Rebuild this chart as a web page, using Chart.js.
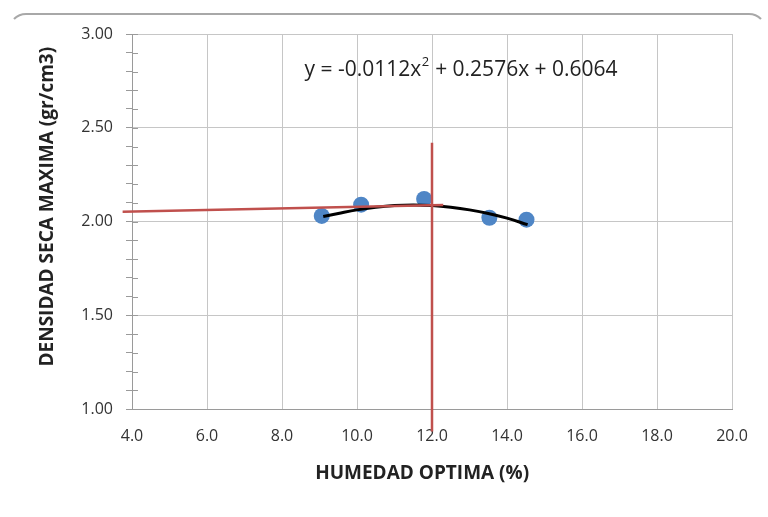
<!DOCTYPE html>
<html>
<head>
<meta charset="utf-8">
<script src="https://cdn.jsdelivr.net/npm/chart.js@4.4.1/dist/chart.umd.min.js"></script>
<style>
  html, body { margin: 0; padding: 0; background: #fff; }
  #box { position: relative; width: 768px; height: 517px; overflow: hidden; }
  #frame {
    position: absolute; left: 8px; top: 13px; width: 755px; height: 560px;
    border: 2px solid transparent; border-top-color: #a8a8a8; border-radius: 18px;
  }
  canvas { position: absolute; left: 0; top: 0; }
</style>
</head>
<body>
<div id="box">
  <div id="frame"></div>
  <canvas id="proctor"></canvas>
</div>
<script>
// puntos del ensayo (humedad %, densidad seca gr/cm3)
const humedad = [9.06, 10.11, 11.79, 13.53, 14.52];
const densidad = [2.03, 2.09, 2.12, 2.02, 2.01];

// curva de tendencia
const curvaX = [9.1, 9.5, 10.0, 10.5, 11.0, 11.5, 12.0, 12.5, 13.0, 13.5, 14.0, 14.55];
const curvaY = [2.027, 2.043, 2.062, 2.076, 2.085, 2.088, 2.085, 2.076, 2.062, 2.043, 2.018, 1.983];

// lineas rojas (densidad maxima / humedad optima)
const lineaHX = [3.75, 12.3];
const lineaHY = [2.052, 2.088];
const lineaVX = [12.0, 12.0];
const lineaVY = [2.42, 0.88];

// ejes
const xTicks = [4, 6, 8, 10, 12, 14, 16, 18, 20];
const yTicks = [1.0, 1.5, 2.0, 2.5, 3.0];

const ecuacion = ['y = -0.0112x', '2', ' + 0.2576x + 0.6064'];
const ecuacionPos = { x: 8.6, y: 2.81 };

const pares = (xs, ys) => xs.map((x, i) => ({ x: x, y: ys[i] }));
const esMayor = v => yTicks.some(t => Math.abs(t - v) < 1e-6);

const RED = '#c0504d';
const GRID = '#c6c6c6';
const AXIS = '#9a9a9a';
const FONT = '"Open Sans", sans-serif';

// marcas menores hacia adentro del eje y + ecuacion
const extras = {
  id: 'extras',
  afterDraw(chart) {
    const c = chart.ctx;
    const ys = chart.scales.y;
    const xs = chart.scales.x;
    c.save();
    c.strokeStyle = AXIS;
    c.lineWidth = 1;
    ys.ticks.forEach(t => {
      const py = Math.round(ys.getPixelForValue(t.value)) + 0.5;
      c.beginPath();
      c.moveTo(xs.left, py);
      c.lineTo(xs.left + 6, py);
      c.stroke();
    });
    // ecuacion de la tendencia
    let px = xs.getPixelForValue(ecuacionPos.x);
    const py = ys.getPixelForValue(ecuacionPos.y);
    c.fillStyle = '#222';
    c.textBaseline = 'middle';
    c.font = '21px ' + FONT;
    c.fillText(ecuacion[0], px, py);
    px += c.measureText(ecuacion[0]).width;
    c.font = '13px ' + FONT;
    c.fillText(ecuacion[1], px + 0.5, py - 7);
    px += c.measureText(ecuacion[1]).width + 1;
    c.font = '21px ' + FONT;
    c.fillText(ecuacion[2], px, py);
    c.restore();
  }
};

new Chart(document.getElementById('proctor'), {
  type: 'scatter',
  data: {
    datasets: [
      {
        data: pares(lineaVX, lineaVY),
        showLine: true, borderColor: RED, borderWidth: 2.5,
        pointRadius: 0, clip: false
      },
      {
        data: pares(lineaHX, lineaHY),
        showLine: true, borderColor: RED, borderWidth: 2.5,
        pointRadius: 0, clip: false
      },
      {
        data: pares(curvaX, curvaY),
        showLine: true, borderColor: '#000', borderWidth: 3,
        tension: 0.4, pointRadius: 0
      },
      {
        data: pares(humedad, densidad),
        backgroundColor: '#4f86c6', borderWidth: 0, pointRadius: 8
      }
    ]
  },
  options: {
    responsive: true,
    maintainAspectRatio: false,
    animation: false,
    layout: { padding: { top: 34, right: 36, left: 0, bottom: 0 } },
    plugins: {
      legend: { display: false },
      tooltip: { enabled: false }
    },
    scales: {
      x: {
        type: 'linear', min: 4, max: 20,
        afterBuildTicks: s => { s.ticks = xTicks.map(v => ({ value: v })); },
        afterFit: s => { s.height = 108; },
        grid: { color: GRID, drawTicks: false },
        border: { color: AXIS },
        ticks: {
          padding: 18, color: '#333',
          font: { family: FONT, size: 16 },
          callback: v => v.toFixed(1)
        },
        title: {
          display: true, text: 'HUMEDAD OPTIMA (%)    ', color: '#222',
          font: { family: FONT, size: 19, weight: 'bold' },
          padding: { top: 0, bottom: 32 }
        }
      },
      y: {
        type: 'linear', min: 1, max: 3,
        ticks: {
          stepSize: 0.1, padding: 13, color: '#333', autoSkip: false,
          font: { family: FONT, size: 16 },
          callback: v => esMayor(v) ? v.toFixed(2) : ''
        },
        afterFit: s => { s.width = 132; },
        grid: {
          color: c => (c.tick && esMayor(c.tick.value)) ? GRID : 'rgba(0,0,0,0)',
          tickColor: AXIS, tickLength: 6
        },
        border: { color: AXIS },
        title: {
          display: true, text: '      DENSIDAD SECA MAXIMA (gr/cm3)', color: '#222',
          font: { family: FONT, size: 19, weight: 'bold' },
          padding: { top: 36, bottom: 0 }
        }
      }
    }
  },
  plugins: [extras]
});
</script>
</body>
</html>
